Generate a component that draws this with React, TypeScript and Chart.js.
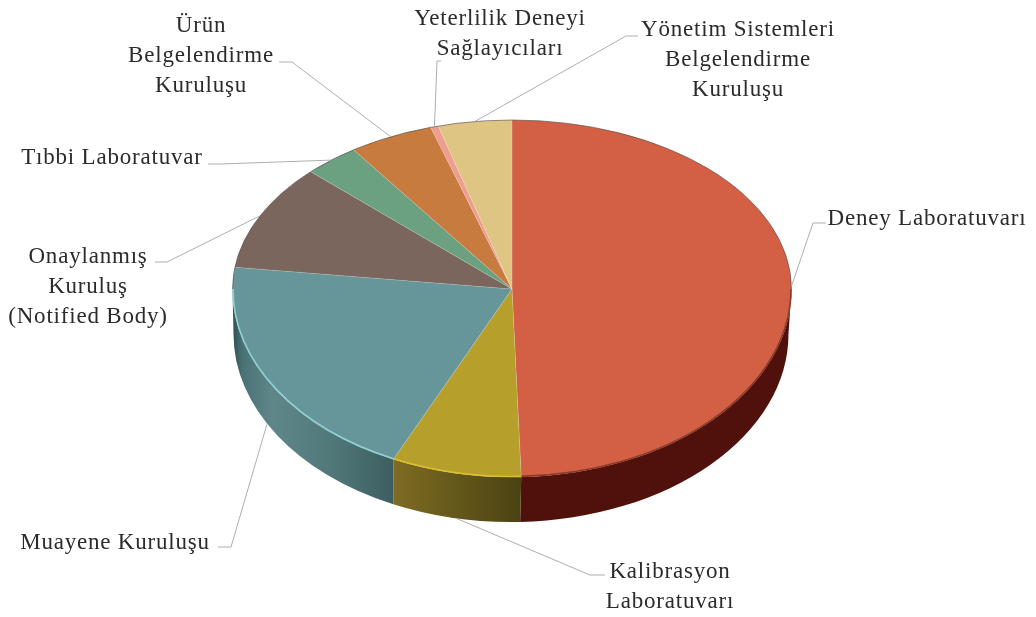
import React, { useEffect, useRef } from "react";
import { Chart, registerables } from "chart.js";

Chart.register(...registerables);

const categories = [
  "Deney Laboratuvarı",
  "Kalibrasyon Laboratuvarı",
  "Muayene Kuruluşu",
  "Onaylanmış Kuruluş (Notified Body)",
  "Tıbbi Laboratuvar",
  "Ürün Belgelendirme Kuruluşu",
  "Yeterlilik Deneyi Sağlayıcıları",
  "Yönetim Sistemleri Belgelendirme Kuruluşu",
];
const shares = [49.5, 7.5, 20.1, 10.15, 3.2, 4.9, 0.45, 4.25];

const labelLines = [
  ["Deney Laboratuvarı"],
  ["Kalibrasyon", "Laboratuvarı"],
  ["Muayene Kuruluşu"],
  ["Onaylanmış", "Kuruluş", "(Notified Body)"],
  ["Tıbbi Laboratuvar"],
  ["Ürün", "Belgelendirme", "Kuruluşu"],
  ["Yeterlilik Deneyi", "Sağlayıcıları"],
  ["Yönetim Sistemleri", "Belgelendirme", "Kuruluşu"],
];

const topColors = ["#d35f45", "#b79f2b", "#66969a", "#7a665c", "#6ba080", "#c87b3e", "#ee9e90", "#dfc583"];
const rimColors = ["#8a3a28", "#dcbf2a", "#8fd0d2", "#7a665c", "#6ba080", "#c87b3e", "#ee9e90", "#dfc583"];

// label layout: text centre x, first baseline y
const labelX = [927, 670, 115, 88, 112, 201, 500, 738];
const labelY = [225, 578, 549, 263, 164, 32, 25, 36];
// leader layout: elbow x, elbow y, end x
const elbowX = [813, 590, 231, 167, 221, 292, 437, 626];
const elbowY = [223, 575, 547, 262, 164, 62, 61, 36];
const endX = [826, 605, 218, 155, 208, 279, 441, 638];

const UPPER_RY = 169;
const LOWER_RY = 188;
const DEPTH = 45;
const LINE_H = 30;

const wallGradient = (ctx: CanvasRenderingContext2D, i: number, x0: number, x1: number) => {
  const g = ctx.createLinearGradient(x0, 0, x1, 0);
  if (i === 1) {
    g.addColorStop(0, "#7e6c22");
    g.addColorStop(1, "#4a4212");
  } else if (i === 2) {
    g.addColorStop(0, "#2f4e52");
    g.addColorStop(0.06, "#4a7174");
    g.addColorStop(0.25, "#5f8688");
    g.addColorStop(0.6, "#51797a");
    g.addColorStop(1, "#3d5e61");
  } else {
    g.addColorStop(0, "#50110c");
    g.addColorStop(1, "#50110c");
  }
  return g;
};

const pie3d = {
  id: "pie3d",
  beforeDatasetDraw(chart: any, args: any) {
    const ctx: CanvasRenderingContext2D = chart.ctx;
    const arcs = args.meta.data;
    const { x: cx, y: cy, outerRadius: r } = arcs[0];
    const W = chart.width;
    const H = chart.height;

    // side wall: only the part of each slice facing the viewer
    arcs.forEach((arc: any, i: number) => {
      const a = Math.max(arc.startAngle, 0);
      const b = Math.min(arc.endAngle, Math.PI);
      if (b <= a) return;
      ctx.save();
      ctx.beginPath();
      ctx.ellipse(cx, cy, r, LOWER_RY, 0, a, b);
      ctx.ellipse(cx - 1, cy + DEPTH, r - 2, LOWER_RY, 0, b, a, true);
      ctx.closePath();
      const xs = [Math.cos(a), Math.cos(b)].map((c) => cx + r * c);
      ctx.fillStyle = wallGradient(ctx, i, Math.min(...xs), Math.max(...xs));
      ctx.fill();
      ctx.restore();
    });

    // top face: the upper and lower halves have different depths (perspective)
    const half = (top: number, height: number, ry: number) => {
      ctx.save();
      ctx.beginPath();
      ctx.rect(0, top, W, height);
      ctx.clip();
      ctx.translate(0, cy);
      ctx.scale(1, ry / r);
      ctx.translate(0, -cy);
      arcs.forEach((arc: any) => arc.draw(ctx));
      ctx.restore();
    };
    half(0, cy, UPPER_RY);
    half(cy, H - cy, LOWER_RY);

    // lit rim on the front, thin dark edge on the back
    arcs.forEach((arc: any, i: number) => {
      const a = Math.max(arc.startAngle, 0);
      const b = Math.min(arc.endAngle, Math.PI);
      if (b <= a) return;
      ctx.save();
      ctx.beginPath();
      ctx.ellipse(cx, cy, r - 0.5, LOWER_RY - 0.5, 0, a, b);
      ctx.strokeStyle = rimColors[i];
      ctx.lineWidth = 1.6;
      ctx.stroke();
      ctx.restore();
    });
    ctx.save();
    ctx.beginPath();
    ctx.ellipse(cx, cy, r, UPPER_RY, 0, Math.PI, 2 * Math.PI);
    ctx.strokeStyle = "rgba(60,50,50,0.6)";
    ctx.lineWidth = 0.9;
    ctx.stroke();
    ctx.restore();
    return false;
  },
  afterDraw(chart: any) {
    const ctx: CanvasRenderingContext2D = chart.ctx;
    const arcs = chart.getDatasetMeta(0).data;
    ctx.save();
    arcs.forEach((arc: any, i: number) => {
      const mid = (arc.startAngle + arc.endAngle) / 2;
      const s = Math.sin(mid);
      const ax = arc.x + arc.outerRadius * Math.cos(mid);
      const ay = arc.y + (s > 0 ? LOWER_RY * s + DEPTH : UPPER_RY * s);
      ctx.beginPath();
      ctx.moveTo(ax, ay);
      ctx.lineTo(elbowX[i], elbowY[i]);
      ctx.lineTo(endX[i], elbowY[i]);
      ctx.strokeStyle = "#aeaeae";
      ctx.lineWidth = 1;
      ctx.stroke();
    });
    ctx.font = '23px "Liberation Serif"';
    (ctx as any).letterSpacing = "0.8px";
    ctx.fillStyle = "#2b2b2b";
    ctx.textAlign = "center";
    ctx.textBaseline = "alphabetic";
    labelLines.forEach((lines, i) => {
      lines.forEach((t, j) => ctx.fillText(t, labelX[i], labelY[i] + j * LINE_H));
    });
    ctx.restore();
  },
};

export default function App() {
  const ref = useRef<HTMLCanvasElement>(null);
  useEffect(() => {
    const chart = new Chart(ref.current!, {
      type: "pie",
      data: {
        labels: categories,
        datasets: [
          {
            data: shares,
            backgroundColor: topColors,
            borderColor: "rgba(255,255,255,0.18)",
            borderWidth: 1,
            clip: false,
          } as any,
        ],
      },
      options: {
        responsive: false,
        animation: false,
        layout: { padding: { left: 232, right: 244, top: 9, bottom: 48 } },
        plugins: { legend: { display: false }, tooltip: { enabled: false } },
      },
      plugins: [pie3d],
    });
    return () => chart.destroy();
  }, []);
  return (
    <div style={{ position: "absolute", left: 0, top: 0, width: 1036, height: 617, background: "#fff" }}>
      <canvas ref={ref} width={1036} height={617} style={{ display: "block" }} />
    </div>
  );
}
